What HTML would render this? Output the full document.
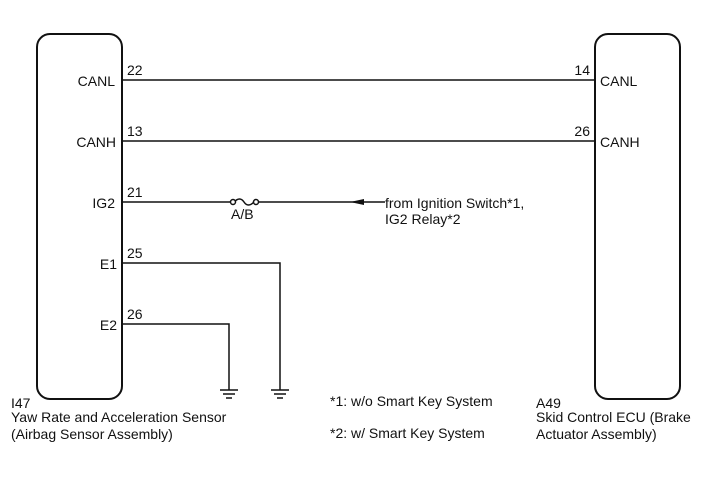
<!DOCTYPE html>
<html><head><style>body{margin:0;background:#fff}svg{display:block}text{font-family:"Liberation Sans",sans-serif;font-size:14px;fill:#111}</style></head><body>
<svg width="713" height="481" viewBox="0 0 713 481" xmlns="http://www.w3.org/2000/svg">
<g fill="none" stroke="#111" stroke-width="2">
<rect x="37" y="34" width="85" height="365" rx="13"/>
<rect x="595" y="34" width="85" height="365" rx="13"/>
</g>
<g stroke="#111" stroke-width="1.5" fill="none">
<line x1="122" y1="80" x2="595" y2="80"/>
<line x1="122" y1="141" x2="595" y2="141"/>
<line x1="122" y1="202" x2="231" y2="202"/>
<line x1="257" y1="202" x2="385" y2="202"/>
<path d="M234 202 q6 -6 10 0 q4 6 10 0"/>
<circle cx="233" cy="202" r="2.5" fill="#fff"/>
<circle cx="256" cy="202" r="2.5" fill="#fff"/>
<polyline points="122,263 280,263 280,390"/>
<polyline points="122,324 229,324 229,390"/>
<line x1="220" y1="390" x2="238" y2="390"/>
<line x1="223" y1="394" x2="235" y2="394"/>
<line x1="226" y1="398" x2="232" y2="398"/>
<line x1="271" y1="390" x2="289" y2="390"/>
<line x1="274" y1="394" x2="286" y2="394"/>
<line x1="277" y1="398" x2="283" y2="398"/>
</g>
<polygon points="350,202 364,199 364,205" fill="#111"/>
<text x="115" y="86" text-anchor="end">CANL</text>
<text x="116" y="147" text-anchor="end">CANH</text>
<text x="115" y="208" text-anchor="end">IG2</text>
<text x="117" y="269" text-anchor="end">E1</text>
<text x="117" y="330" text-anchor="end">E2</text>
<text x="127" y="75">22</text>
<text x="127" y="136">13</text>
<text x="127" y="197">21</text>
<text x="127" y="258">25</text>
<text x="127" y="319">26</text>
<text x="590" y="75" text-anchor="end">14</text>
<text x="590" y="136" text-anchor="end">26</text>
<text x="600" y="86">CANL</text>
<text x="600" y="147">CANH</text>
<text x="231" y="219">A/B</text>
<text x="385" y="208">from Ignition Switch*1,</text>
<text x="385" y="224">IG2 Relay*2</text>
<text x="11" y="408">I47</text>
<text x="11" y="422">Yaw Rate and Acceleration Sensor</text>
<text x="11" y="439">(Airbag Sensor Assembly)</text>
<text x="330" y="406">*1: w/o Smart Key System</text>
<text x="330" y="438">*2: w/ Smart Key System</text>
<text x="536" y="408">A49</text>
<text x="536" y="422">Skid Control ECU (Brake</text>
<text x="536" y="439">Actuator Assembly)</text>
</svg>
</body></html>
